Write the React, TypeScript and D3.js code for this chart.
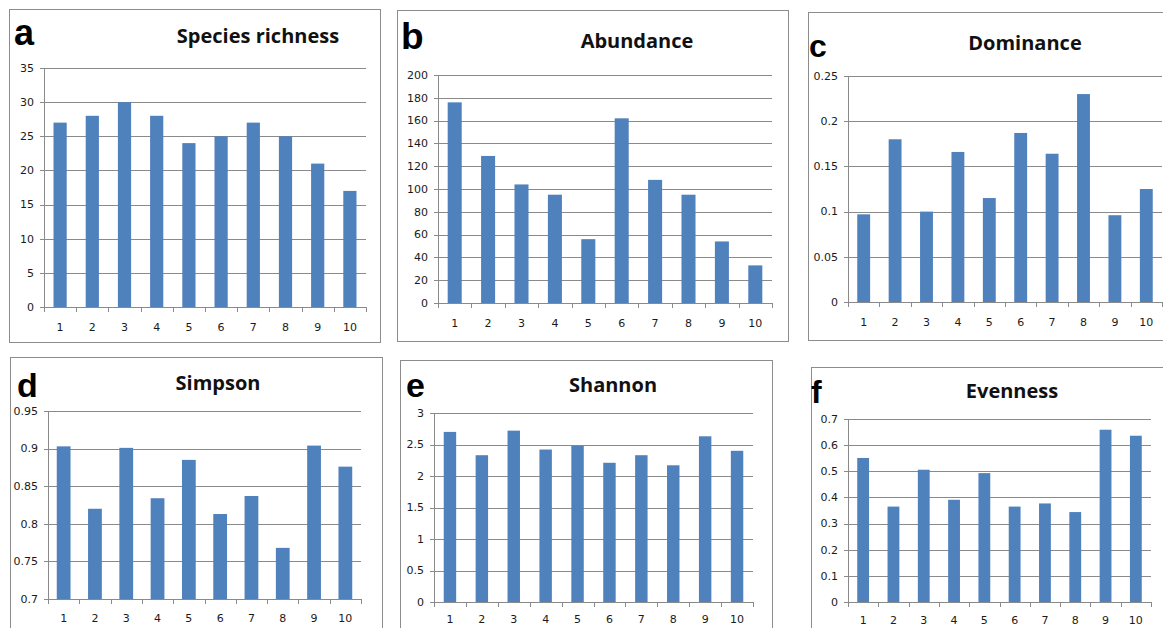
import React from "react";
import * as d3 from "d3";

// ---------- data ----------
const categories = ["1", "2", "3", "4", "5", "6", "7", "8", "9", "10"];

const speciesRichness = [27, 28, 30, 28, 24, 25, 27, 25, 21, 17];
const abundance = [176, 129, 104, 95, 56, 162, 108, 95, 54, 33];
const dominance = [0.097, 0.18, 0.1, 0.166, 0.115, 0.187, 0.164, 0.23, 0.096, 0.125];
const simpson = [0.903, 0.82, 0.901, 0.834, 0.885, 0.813, 0.837, 0.768, 0.904, 0.876];
const shannon = [2.7, 2.33, 2.72, 2.42, 2.48, 2.21, 2.33, 2.17, 2.63, 2.4];
const evenness = [0.551, 0.365, 0.506, 0.391, 0.493, 0.365, 0.377, 0.344, 0.659, 0.636];

const ticksA = [0, 5, 10, 15, 20, 25, 30, 35];
const ticksB = [0, 20, 40, 60, 80, 100, 120, 140, 160, 180, 200];
const ticksC = [0, 0.05, 0.1, 0.15, 0.2, 0.25];
const ticksD = [0.7, 0.75, 0.8, 0.85, 0.9, 0.95];
const ticksE = [0, 0.5, 1, 1.5, 2, 2.5, 3];
const ticksF = [0, 0.1, 0.2, 0.3, 0.4, 0.5, 0.6, 0.7];

// ---------- layout ----------
type Cfg = {
  letter: string;
  title: string;
  values: number[];
  ticks: number[];
  frame: [number, number, number, number];
  plot: { left: number; right: number; top: number; bottom: number };
  letterPos: [number, number, number];
  titlePos: [number, number];
  catY: number;
  barFrac: number;
};

const panels: Cfg[] = [
  {
    letter: "a", title: "Species richness", values: speciesRichness, ticks: ticksA,
    frame: [9, 9, 371, 333],
    plot: { left: 44, right: 366, top: 68, bottom: 307 },
    letterPos: [14, 45, 36], titlePos: [258, 43], catY: 331, barFrac: 0.41,
  },
  {
    letter: "b", title: "Abundance", values: abundance, ticks: ticksB,
    frame: [397, 10, 391, 331],
    plot: { left: 438, right: 772, top: 75, bottom: 303 },
    letterPos: [401, 49, 37], titlePos: [637, 48], catY: 327, barFrac: 0.42,
  },
  {
    letter: "c", title: "Dominance", values: dominance, ticks: ticksC,
    frame: [808, 12, 400, 328],
    plot: { left: 848, right: 1162, top: 76, bottom: 302 },
    letterPos: [809, 57, 32], titlePos: [1025, 50], catY: 326, barFrac: 0.41,
  },
  {
    letter: "d", title: "Simpson", values: simpson, ticks: ticksD,
    frame: [10, 357, 372, 300],
    plot: { left: 48, right: 361, top: 411, bottom: 599 },
    letterPos: [17, 397, 34], titlePos: [218, 390], catY: 622, barFrac: 0.44,
  },
  {
    letter: "e", title: "Shannon", values: shannon, ticks: ticksE,
    frame: [400, 360, 372, 300],
    plot: { left: 434, right: 753, top: 413, bottom: 602 },
    letterPos: [406, 397, 34], titlePos: [613, 392], catY: 623, barFrac: 0.39,
  },
  {
    letter: "f", title: "Evenness", values: evenness, ticks: ticksF,
    frame: [811, 367, 400, 300],
    plot: { left: 848, right: 1151, top: 419, bottom: 602 },
    letterPos: [811, 403, 32], titlePos: [1012, 398], catY: 624, barFrac: 0.39,
  },
];

const BAR = "#4f81bd";
const GRID = "#8a8a8a";
const FRAME = "#8c8c8c";
const TEXT = "#1a1a1a";
const fmt = (v: number) => String(+v.toFixed(3));

function Panel({ cfg }: { cfg: Cfg }) {
  const { plot, ticks, values } = cfg;
  const x = d3.scaleBand<string>().domain(categories).range([plot.left, plot.right]).padding(0);
  const y = d3
    .scaleLinear()
    .domain([ticks[0], ticks[ticks.length - 1]])
    .range([plot.bottom, plot.top]);
  const bw = x.bandwidth() * cfg.barFrac;
  const boundaries = [...categories.map((c) => x(c) as number), plot.right];
  return (
    <g>
      <rect
        x={cfg.frame[0] + 0.5}
        y={cfg.frame[1] + 0.5}
        width={cfg.frame[2]}
        height={cfg.frame[3]}
        fill="#fff"
        stroke={FRAME}
        strokeWidth={1}
      />
      <text
        x={cfg.letterPos[0]}
        y={cfg.letterPos[1]}
        fontSize={cfg.letterPos[2]}
        fontWeight="bold"
        fontFamily="'Liberation Sans', Arial, sans-serif"
        fill="#000"
      >
        {cfg.letter}
      </text>
      <text
        x={cfg.titlePos[0]}
        y={cfg.titlePos[1]}
        fontSize={20}
        fontWeight={700}
        fontFamily="'Open Sans', 'Noto Sans', sans-serif"
        textAnchor="middle"
        fill="#111"
      >
        {cfg.title}
      </text>
      {/* gridlines + y ticks */}
      {ticks.map((t) => (
        <g key={t}>
          <line
            x1={plot.left - 4}
            x2={plot.right}
            y1={Math.round(y(t)) + 0.5}
            y2={Math.round(y(t)) + 0.5}
            stroke={GRID}
            strokeWidth={1}
          />
          <text
            x={plot.left - 10}
            y={y(t)}
            dy="0.35em"
            fontSize={11}
            textAnchor="end"
            fontFamily="'DejaVu Sans', Verdana, sans-serif"
            fill={TEXT}
          >
            {fmt(t)}
          </text>
        </g>
      ))}
      {/* bars */}
      {values.map((v, i) => {
        const c = categories[i];
        const cx = (x(c) as number) + x.bandwidth() / 2;
        return (
          <rect
            key={c}
            x={cx - bw / 2}
            y={y(v)}
            width={bw}
            height={y(ticks[0]) - y(v)}
            fill={BAR}
          />
        );
      })}
      {/* y axis */}
      <line
        x1={plot.left + 0.5}
        x2={plot.left + 0.5}
        y1={plot.top}
        y2={plot.bottom}
        stroke={GRID}
      />
      {/* x axis */}
      <line
        x1={plot.left}
        x2={plot.right}
        y1={Math.round(plot.bottom) + 0.5}
        y2={Math.round(plot.bottom) + 0.5}
        stroke={GRID}
      />
      {boundaries.map((bx, i) => (
        <line
          key={i}
          x1={Math.round(bx) + 0.5}
          x2={Math.round(bx) + 0.5}
          y1={plot.bottom}
          y2={plot.bottom + 5}
          stroke={GRID}
        />
      ))}
      {categories.map((c) => (
        <text
          key={c}
          x={(x(c) as number) + x.bandwidth() / 2}
          y={cfg.catY}
          fontSize={11}
          textAnchor="middle"
          fontFamily="'DejaVu Sans', Verdana, sans-serif"
          fill={TEXT}
        >
          {c}
        </text>
      ))}
    </g>
  );
}

export default function App() {
  return (
    <svg
      width={1163}
      height={628}
      style={{ position: "absolute", left: 0, top: 0, background: "#fff" }}
    >
      <rect x={0} y={0} width={1163} height={628} fill="#fff" />
      {panels.map((p) => (
        <Panel key={p.letter} cfg={p} />
      ))}
    </svg>
  );
}
